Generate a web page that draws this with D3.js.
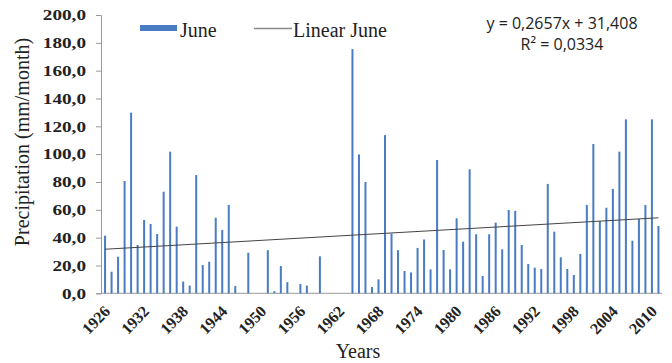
<!DOCTYPE html>
<html>
<head>
<meta charset="utf-8">
<script src="https://cdn.jsdelivr.net/npm/d3@7/dist/d3.min.js"></script>
<style>
  body { margin: 0; background: #fff; }
  svg text { fill: #222; }
</style>
</head>
<body>
<div id="chart"></div>
<script>
// June precipitation per year, null where no bar is drawn
const years = d3.range(1926, 2012);
const june = [
  41.4, 15.5, 26.3, 80.7, 129.8, 34.7, 52.7, 49.8, 42.6, 73.0,
  101.8, 47.9, 8.4, 5.5, 85.0, 20.3, 22.7, 54.3, 45.5, 63.5,
  5.2, null, 29.2, null, null, 31.0, 1.5, 19.6, 8.0, null,
  6.7, 5.5, null, 26.6, null, null, null, null, 175.5, 99.8,
  80.0, 4.5, 10.0, 113.7, 43.0, 31.0, 16.0, 15.0, 32.6, 38.7,
  17.2, 95.8, 31.1, 17.2, 53.9, 37.1, 89.1, 42.4, 12.4, 42.4,
  50.8, 31.6, 59.9, 59.2, 34.7, 21.1, 18.4, 17.5, 78.6, 44.3,
  25.9, 17.5, 13.2, 28.3, 63.5, 107.3, 52.0, 61.5, 75.0, 101.8,
  125.0, 37.8, 53.4, 63.5, 125.0, 48.4
];
const yTicks = [0, 20, 40, 60, 80, 100, 120, 140, 160, 180, 200];
const xTickYears = [1926, 1932, 1938, 1944, 1950, 1956, 1962, 1968, 1974, 1980, 1986, 1992, 1998, 2004, 2010];
// trendline as printed on the chart (x = 1..n)
const slope = 0.2657, intercept = 31.408;
const eqText = "y = 0,2657x + 31,408";
const r2Text = "R\u00b2 = 0,0334";

const W = 672, H = 363;
const svg = d3.select("#chart").append("svg").attr("width", W).attr("height", H);

const x = d3.scaleBand().domain(years).range([101.8, 661.7]);
const y = d3.scaleLinear().domain([0, 200]).range([293.3, 15]);
const fmt = v => d3.format(".1f")(v).replace(".", ",");

// y axis
const yAx = svg.append("g").attr("transform", "translate(101,0)")
  .call(d3.axisLeft(y).tickValues(yTicks).tickSize(5).tickPadding(10).tickFormat(fmt));
yAx.select(".domain").attr("stroke", "#999");
yAx.selectAll(".tick line").attr("stroke", "#999");
yAx.selectAll(".tick text")
  .attr("font-family", "Liberation Serif").attr("font-weight", "bold")
  .attr("font-size", 15).attr("fill", "#333")
  .attr("x", 0).attr("transform", "translate(-15,0) scale(1.28,1)");

// x axis
const xAx = svg.append("g").attr("transform", "translate(0," + y(0) + ")")
  .call(d3.axisBottom(x).tickValues(xTickYears).tickSize(0).tickFormat(d3.format("d")));
xAx.select(".domain").attr("stroke", "#999").attr("d", "M101,0H662");
xAx.selectAll(".tick text")
  .attr("font-family", "Liberation Serif").attr("font-weight", "bold")
  .attr("font-size", 16).attr("fill", "#333")
  .attr("text-anchor", "end")
  .attr("dy", null).attr("y", 0)
  .attr("transform", "translate(6,19) rotate(-46)");

// bars
svg.append("g").selectAll("rect")
  .data(years.map((yr, i) => ({ yr, v: june[i] })).filter(d => d.v != null))
  .join("rect")
  .attr("x", d => x(d.yr) + x.bandwidth() / 2 - 1)
  .attr("width", 2)
  .attr("y", d => y(d.v))
  .attr("height", d => y(0) - y(d.v))
  .attr("fill", "#4a7cc4");

// linear trend
const trend = [1, years.length].map(n => ({ yr: years[n - 1], v: slope * n + intercept }));
svg.append("path")
  .datum(trend)
  .attr("fill", "none").attr("stroke", "#444").attr("stroke-width", 1)
  .attr("d", d3.line().x(d => x(d.yr) + x.bandwidth() / 2).y(d => y(d.v)));

// legend
const leg = svg.append("g");
leg.append("rect").attr("x", 140).attr("y", 25).attr("width", 37).attr("height", 6).attr("fill", "#4a7cc4");
leg.append("text").attr("x", 180).attr("y", 37)
  .attr("font-family", "Liberation Serif").attr("font-size", 20).text("June");
leg.append("line").attr("x1", 254).attr("x2", 292).attr("y1", 28.5).attr("y2", 28.5)
  .attr("stroke", "#888").attr("stroke-width", 1.5);
leg.append("text").attr("x", 293).attr("y", 37)
  .attr("font-family", "Liberation Serif").attr("font-size", 20).text("Linear June");

// equation
svg.append("text").attr("x", 562).attr("y", 29).attr("text-anchor", "middle")
  .attr("font-family", "Open Sans").attr("font-size", 16).attr("fill", "#333").text(eqText);
svg.append("text").attr("x", 562).attr("y", 50).attr("text-anchor", "middle")
  .attr("font-family", "Open Sans").attr("font-size", 16).attr("fill", "#333").text(r2Text);

// axis titles
svg.append("text")
  .attr("transform", "translate(29,142) rotate(-90)").attr("text-anchor", "middle")
  .attr("font-family", "Liberation Serif").attr("font-size", 20).text("Precipitation (mm/month)");
svg.append("text").attr("x", 358).attr("y", 358).attr("text-anchor", "middle")
  .attr("font-family", "Liberation Serif").attr("font-size", 20).text("Years");
</script>
</body>
</html>
